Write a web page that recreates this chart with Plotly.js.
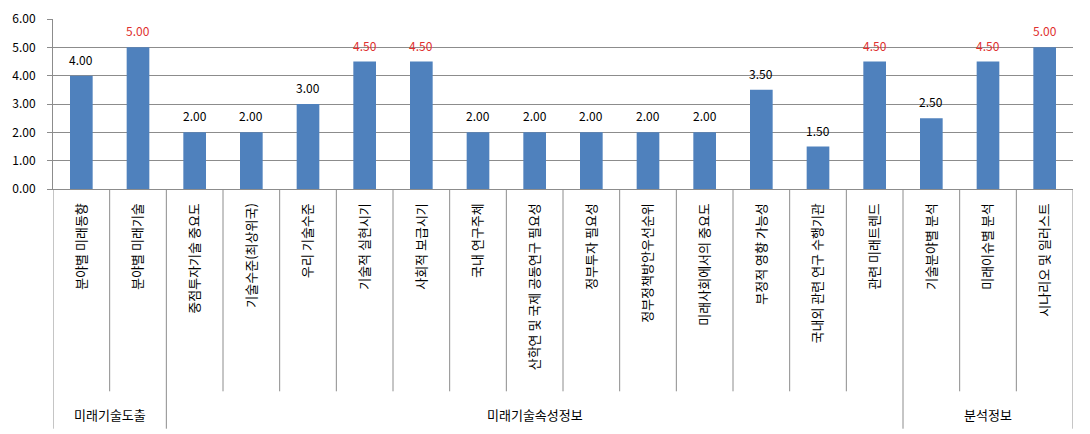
<!DOCTYPE html>
<html>
<head>
<meta charset="utf-8">
<script src="https://cdn.plot.ly/plotly-3.0.1.min.js"></script>
<style>html,body{margin:0;padding:0;background:#fff;}#chart{width:1090px;height:434px;}</style>
</head>
<body>
<div id="chart"></div>
<script>
const categories = [
  "분야별 미래동향", "분야별 미래기술",
  "중점투자기술 중요도", "기술수준(최상위국)", "우리 기술수준", "기술적 실현시기",
  "사회적 보급시기", "국내 연구주체", "산학연 및 국제 공동연구 필요성", "정부투자 필요성",
  "정부정책방안우선순위", "미래사회에서의 중요도", "부정적 영향 가능성",
  "국내외 관련 연구 수행기관", "관련 미래트렌드",
  "기술분야별 분석", "미래이슈별 분석", "시나리오 및 일러스트"
];
const values = [4.0, 5.0, 2.0, 2.0, 3.0, 4.5, 4.5, 2.0, 2.0, 2.0, 2.0, 2.0, 3.5, 1.5, 4.5, 2.5, 4.5, 5.0];
const groupNames = ["미래기술도출", "미래기술속성정보", "분석정보"];
const groupSizes = [2, 13, 3];
const yTicks = [0, 1, 2, 3, 4, 5, 6];

const FONT = "'Noto Sans CJK KR', 'Noto Sans', sans-serif";
const RED = "#e0302e";

const shapes = [];
const annotations = [];

// value labels
values.forEach((v, i) => {
  annotations.push({
    x: categories[i], y: v, xref: 'x', yref: 'y',
    text: v.toFixed(2), showarrow: false, yanchor: 'bottom', yshift: 6,
    font: {family: FONT, size: 12, color: v >= 4.5 ? RED : '#000'}
  });
});

// group boundaries
const groupEdges = [-0.5];
let acc = -0.5;
groupSizes.forEach(s => { acc += s; groupEdges.push(acc); });

// category dividers
for (let i = 0; i <= categories.length; i++) {
  const xpos = i - 0.5;
  const isGroup = groupEdges.some(g => Math.abs(g - xpos) < 1e-9);
  shapes.push({
    type: 'line', xref: 'x', yref: 'paper', x0: xpos, x1: xpos,
    y0: 0, y1: isGroup ? -1.41 : -1.19,
    line: {color: '#8c8c8c', width: 1}
  });
}

// group labels
groupNames.forEach((g, k) => {
  annotations.push({
    x: (groupEdges[k] + groupEdges[k + 1]) / 2, y: -1.325, xref: 'x', yref: 'paper',
    text: g, showarrow: false, xanchor: 'center', yanchor: 'middle',
    font: {family: FONT, size: 13, color: '#000'}
  });
});

const trace = {
  type: 'bar', x: categories, y: values,
  marker: {color: '#4f81bd'}, width: 0.4, hoverinfo: 'x+y'
};

const layout = {
  width: 1090, height: 434,
  margin: {l: 53, r: 17, t: 19, b: 245},
  paper_bgcolor: '#fff', plot_bgcolor: '#fff',
  showlegend: false,
  font: {family: FONT, size: 12, color: '#000'},
  xaxis: {
    type: 'category', range: [-0.5, categories.length - 0.5],
    tickangle: -90, ticks: '', showgrid: false, showline: true, linecolor: '#8c8c8c', linewidth: 1,
    tickfont: {family: FONT, size: 13, color: '#000'}, automargin: false,
    ticklabelstandoff: 8, fixedrange: true
  },
  yaxis: {
    range: [0, 6], tickvals: yTicks, ticktext: yTicks.map(v => v.toFixed(2)),
    showgrid: true, gridcolor: '#8c8c8c', gridwidth: 1, zeroline: false,
    showline: true, linecolor: '#8c8c8c', ticks: 'outside', ticklen: 5, tickcolor: '#8c8c8c',
    tickfont: {family: FONT, size: 12, color: '#000'}, automargin: false, fixedrange: true,
    ticklabelstandoff: 9
  },
  shapes: shapes,
  annotations: annotations
};

Plotly.newPlot('chart', [trace], layout, {displayModeBar: false, staticPlot: true});
</script>
</body>
</html>
